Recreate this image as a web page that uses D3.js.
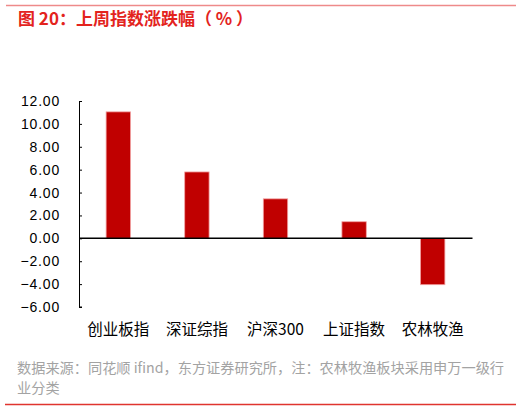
<!DOCTYPE html>
<html>
<head>
<meta charset="utf-8">
<script src="https://cdn.jsdelivr.net/npm/d3@7"></script>
<style>
  body { margin: 0; background: #fff; }
  text { font-family: "Liberation Sans", "Noto Sans CJK SC", sans-serif; }
</style>
</head>
<body>
<svg width="522" height="411"></svg>
<script>
// chart data
const categories = ["创业板指", "深证综指", "沪深300", "上证指数", "农林牧渔"];
const values = [11.05, 5.8, 3.45, 1.45, -4.05];
const yTicks = [-6, -4, -2, 0, 2, 4, 6, 8, 10, 12];

const margin = {top: 101, right: 50, bottom: 104, left: 79};
const W = 522, H = 411;
const width = W - margin.left - margin.right;
const height = H - margin.top - margin.bottom;

const svg = d3.select("svg");

// frame lines + title
svg.append("line").attr("x1", 6).attr("x2", 516).attr("y1", 5.5).attr("y2", 5.5)
  .attr("stroke", "#ee8a8a").attr("stroke-width", 1.5);
svg.append("line").attr("x1", 5).attr("x2", 516).attr("y1", 404.5).attr("y2", 404.5)
  .attr("stroke", "#e0342f").attr("stroke-width", 1.5);

svg.append("text").attr("x", 18).attr("y", 25)
  .attr("fill", "#e3231d").attr("font-size", 17).attr("font-weight", "bold")
  .style("font-family", "'Noto Sans CJK SC', sans-serif")
  .text("图 20：上周指数涨跌幅（ % ）");

const g = svg.append("g").attr("transform", `translate(${margin.left},${margin.top})`);

const x = d3.scaleBand().domain(categories).range([0, width]).paddingInner(0.69).paddingOuter(0.345);
const y = d3.scaleLinear().domain([-6, 12]).range([height, 0]);

// y axis
const yAxis = d3.axisRight(y).tickValues(yTicks).tickSize(3).tickFormat(d3.format(".2f"));
const yg = g.append("g").call(yAxis);
yg.select(".domain").attr("stroke", "#000").attr("d", `M3,0.5H0.5V${height}H3`);
yg.selectAll(".tick line").attr("stroke", "#000");
yg.selectAll(".tick text").attr("x", -19).attr("text-anchor", "end")
  .attr("font-size", 14).attr("fill", "#000")
  .style("letter-spacing", "0.8px")
  .style("font-family", "'Liberation Sans', Arial, sans-serif");

// bars
g.selectAll(".bar").data(values).join("rect")
  .attr("class", "bar")
  .attr("x", (d, i) => x(categories[i]))
  .attr("width", x.bandwidth())
  .attr("y", d => y(Math.max(0, d)))
  .attr("height", d => Math.abs(y(d) - y(0)))
  .attr("fill", "#c00000")
  .attr("stroke", "#f2a0a0").attr("stroke-width", 0.8);

// zero line
g.append("line").attr("x1", 0).attr("x2", width + 0.5)
  .attr("y1", y(0)).attr("y2", y(0))
  .attr("stroke", "#000").attr("stroke-width", 1.5);

// category labels
g.selectAll(".cat").data(categories).join("text")
  .attr("class", "cat")
  .attr("x", d => x(d) + x.bandwidth() / 2)
  .attr("y", height + 28)
  .attr("text-anchor", "middle")
  .attr("font-size", 15.5).attr("fill", "#000")
  .style("font-family", "'Noto Sans CJK SC', sans-serif")
  .text(d => d);

// source note
const note = ["数据来源：同花顺 ifind，东方证券研究所，注：农林牧渔板块采用申万一级行", "业分类"];
svg.selectAll(".note").data(note).join("text")
  .attr("class", "note")
  .attr("x", 17).attr("y", (d, i) => 373 + i * 20)
  .attr("font-size", 14.2).attr("fill", "#a3a3a3")
  .style("font-family", "'Noto Sans CJK SC', sans-serif")
  .text(d => d);
</script>
</body>
</html>
